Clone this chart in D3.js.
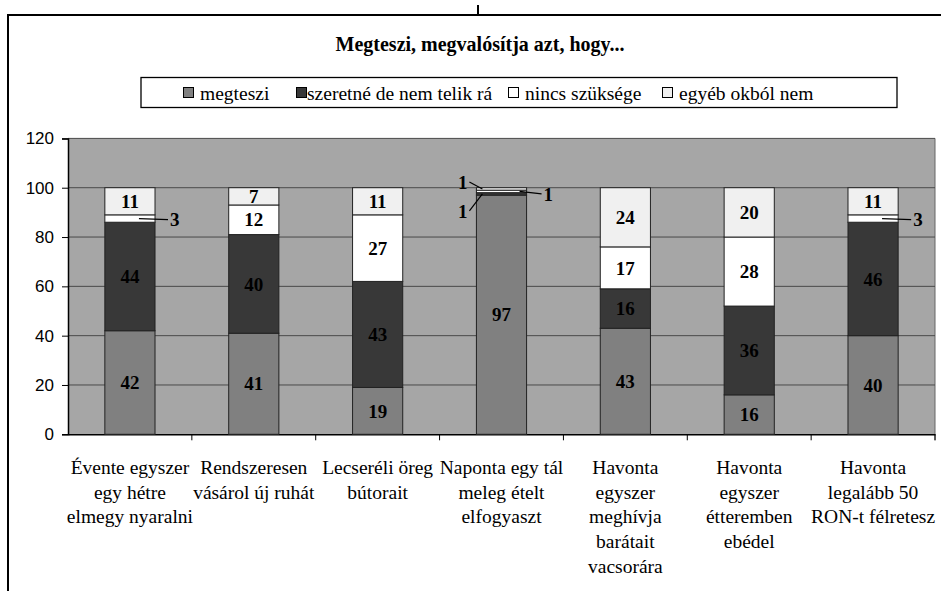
<!DOCTYPE html>
<html>
<head>
<meta charset="utf-8">
<script src="https://cdn.jsdelivr.net/npm/d3@7"></script>
<style>
  body { margin: 0; background: #fff; }
  svg { display: block; }
  .serif { font-family: "Liberation Serif", "Times New Roman", Times, "DejaVu Serif", serif; }
  .sans { font-family: "Liberation Sans", Arial, sans-serif; }
</style>
</head>
<body>
<div id="svg-container"></div>
<script>
////////////////////////////////  Data  ////////////////////////////////
const categories = [
  "Évente egyszer egy hétre elmegy nyaralni",
  "Rendszeresen vásárol új ruhát",
  "Lecseréli öreg bútorait",
  "Naponta egy tál meleg ételt elfogyaszt",
  "Havonta egyszer meghívja barátait vacsorára",
  "Havonta egyszer étteremben ebédel",
  "Havonta legalább 50 RON-t félretesz"
];
// how the category labels wrap
const categoryLines = [
  ["Évente egyszer", "egy hétre", "elmegy nyaralni"],
  ["Rendszeresen", "vásárol új ruhát"],
  ["Lecseréli öreg", "bútorait"],
  ["Naponta egy tál", "meleg ételt", "elfogyaszt"],
  ["Havonta", "egyszer", "meghívja", "barátait", "vacsorára"],
  ["Havonta", "egyszer", "étteremben", "ebédel"],
  ["Havonta", "legalább 50", "RON-t félretesz"]
];
const megteszi = [42, 41, 19, 97, 43, 16, 40];
const szeretne = [44, 40, 43, 1, 16, 36, 46];
const nincs = [3, 12, 27, 1, 17, 28, 3];
const egyeb = [11, 7, 11, 1, 24, 20, 11];
const seriesNames = ["megteszi", "szeretné de nem telik rá", "nincs szüksége", "egyéb okból nem"];
const yTicks = [0, 20, 40, 60, 80, 100, 120];
const title = "Megteszi, megvalósítja azt, hogy...";

////////////////////////////////  Init  ////////////////////////////////
const width = 941, height = 591;
const colors = ["#808080", "#383838", "#ffffff", "#f0f0f0"];
const plot = { left: 68, right: 935, top: 138.4, bottom: 434.3 };

const svg = d3.select("#svg-container").append("svg")
  .attr("width", width).attr("height", height);

// chart frame
svg.append("path")
  .attr("d", `M8,${height} V15 H${width}`)
  .attr("fill", "none").attr("stroke", "#000").attr("stroke-width", 2);
svg.append("line")
  .attr("x1", 478).attr("x2", 478).attr("y1", 5).attr("y2", 15)
  .attr("stroke", "#000").attr("stroke-width", 2);

// scales
const x = d3.scaleBand().domain(categories).range([plot.left, plot.right]).padding(0);
const y = d3.scaleLinear().domain([0, 120]).range([plot.bottom, plot.top]);
const barW = x.bandwidth() * 0.405;

// table for stack
const table = categories.map((c, i) => ({
  cat: c, s0: megteszi[i], s1: szeretne[i], s2: nincs[i], s3: egyeb[i]
}));
const keys = ["s0", "s1", "s2", "s3"];
const stacked = d3.stack().keys(keys)(table);

// plot background
svg.append("rect")
  .attr("x", plot.left).attr("y", plot.top)
  .attr("width", plot.right - plot.left).attr("height", plot.bottom - plot.top)
  .attr("fill", "#a6a6a6");
svg.append("line")
  .attr("x1", plot.right).attr("x2", plot.right).attr("y1", plot.top).attr("y2", plot.bottom + 6)
  .attr("stroke", "#666").attr("stroke-width", 1);

// gridlines
svg.append("g").selectAll("line")
  .data(yTicks.filter(d => d > 0))
  .join("line")
  .attr("x1", plot.left).attr("x2", plot.right)
  .attr("y1", d => y(d)).attr("y2", d => y(d))
  .attr("stroke", "#4a4a4a").attr("stroke-width", 1);

// y axis
const yAxis = svg.append("g")
  .attr("transform", `translate(${plot.left},0)`)
  .call(d3.axisLeft(y).tickValues(yTicks).tickSize(6).tickPadding(8));
yAxis.select(".domain").attr("stroke", "#000").attr("stroke-width", 1.5);
yAxis.selectAll(".tick line").attr("stroke", "#000");
yAxis.selectAll("text").attr("class", "sans").attr("font-family", null)
  .style("font-size", "17px").attr("fill", "#000");

// x axis
const xAxis = svg.append("g")
  .attr("transform", `translate(0,${plot.bottom})`)
  .call(d3.axisBottom(x).tickSize(0).tickFormat(""));
xAxis.select(".domain").attr("stroke", "#000").attr("stroke-width", 1.5);
xAxis.selectAll(".tick").remove();
svg.append("g").selectAll("line")
  .data(categories)
  .join("line")
  .attr("x1", d => x(d) + x.bandwidth()).attr("x2", d => x(d) + x.bandwidth())
  .attr("y1", plot.bottom).attr("y2", plot.bottom + 6)
  .attr("stroke", "#000");

// bars
const layers = svg.append("g").selectAll("g")
  .data(stacked)
  .join("g")
  .attr("fill", (d, i) => colors[i]);

layers.selectAll("rect")
  .data(d => d)
  .join("rect")
  .attr("x", d => x(d.data.cat) + (x.bandwidth() - barW) / 2)
  .attr("y", d => y(d[1]))
  .attr("width", barW)
  .attr("height", d => y(d[0]) - y(d[1]))
  .attr("stroke", "#222")
  .attr("stroke-width", 1);

// value labels
// callouts for small segments: line from inside the bar, label outside
const callouts = {
  "0-2": { side: "right", x1: 9, x2: barW / 2 + 13, dy: 1 },
  "6-2": { side: "right", x1: 9, x2: barW / 2 + 13, dy: 1 },
  "3-3": { side: "left", x1: -barW / 2 + 6, x2: -barW / 2 - 7, dy: -7 },
  "3-2": { side: "right", x1: barW / 2 - 7, x2: barW / 2 + 15, dy: 2.5 },
  "3-1": { side: "left", x1: -barW / 2 + 6, x2: -barW / 2 - 7, dy: 17 }
};

const labelG = svg.append("g").attr("class", "serif")
  .style("font-weight", "bold").style("font-size", "19px").attr("fill", "#000");

stacked.forEach((layer, si) => {
  layer.forEach((d, ci) => {
    const v = d[1] - d[0];
    const cx = x(d.data.cat) + x.bandwidth() / 2;
    const cy = y((d[0] + d[1]) / 2);
    const co = callouts[`${ci}-${si}`];
    if (co) {
      const ly = cy + co.dy;
      svg.append("line")
        .attr("x1", cx + co.x1).attr("y1", cy)
        .attr("x2", cx + co.x2).attr("y2", ly)
        .attr("stroke", "#000").attr("stroke-width", 1.2);
      labelG.append("text")
        .attr("x", co.side === "right" ? cx + co.x2 + 2 : cx + co.x2 - 2)
        .attr("y", ly)
        .attr("dy", "0.35em")
        .attr("text-anchor", co.side === "right" ? "start" : "end")
        .text(v);
    } else {
      labelG.append("text")
        .attr("x", cx).attr("y", cy)
        .attr("dy", "0.35em")
        .attr("text-anchor", "middle")
        .text(v);
    }
  });
});

// category labels
svg.append("g").selectAll("text")
  .data(categories)
  .join("text")
  .attr("class", "serif")
  .style("font-size", "19.5px").attr("fill", "#000")
  .attr("text-anchor", "middle")
  .attr("x", d => x(d) + x.bandwidth() / 2)
  .attr("y", 474)
  .selectAll("tspan")
  .data((d, i) => categoryLines[i])
  .join("tspan")
  .attr("x", function () { return this.parentNode.getAttribute("x"); })
  .attr("dy", (d, i) => (i === 0 ? 0 : 24.7))
  .text(d => d);

// title
svg.append("text")
  .attr("class", "serif")
  .attr("x", 480).attr("y", 51)
  .attr("text-anchor", "middle")
  .style("font-weight", "bold").style("font-size", "20px")
  .text(title);

// legend
const legend = svg.append("g");
legend.append("rect")
  .attr("x", 141).attr("y", 77.5).attr("width", 756).attr("height", 30)
  .attr("fill", "#fff").attr("stroke", "#000").attr("stroke-width", 1.3);
const legendX = [183, 296, 508, 662];
const legendItems = legend.selectAll("g.item")
  .data(seriesNames)
  .join("g")
  .attr("class", "item")
  .attr("transform", (d, i) => `translate(${legendX[i]},0)`);
legendItems.append("rect")
  .attr("x", 0.5).attr("y", 87.5).attr("width", 10).attr("height", 10)
  .attr("fill", (d, i) => colors[i]).attr("stroke", "#000").attr("stroke-width", 1);
legendItems.append("text")
  .attr("class", "serif")
  .attr("x", (d, i) => (i === 1 ? 11 : 17))
  .attr("y", 100)
  .style("font-size", "19.5px")
  .text(d => d);
</script>
</body>
</html>
